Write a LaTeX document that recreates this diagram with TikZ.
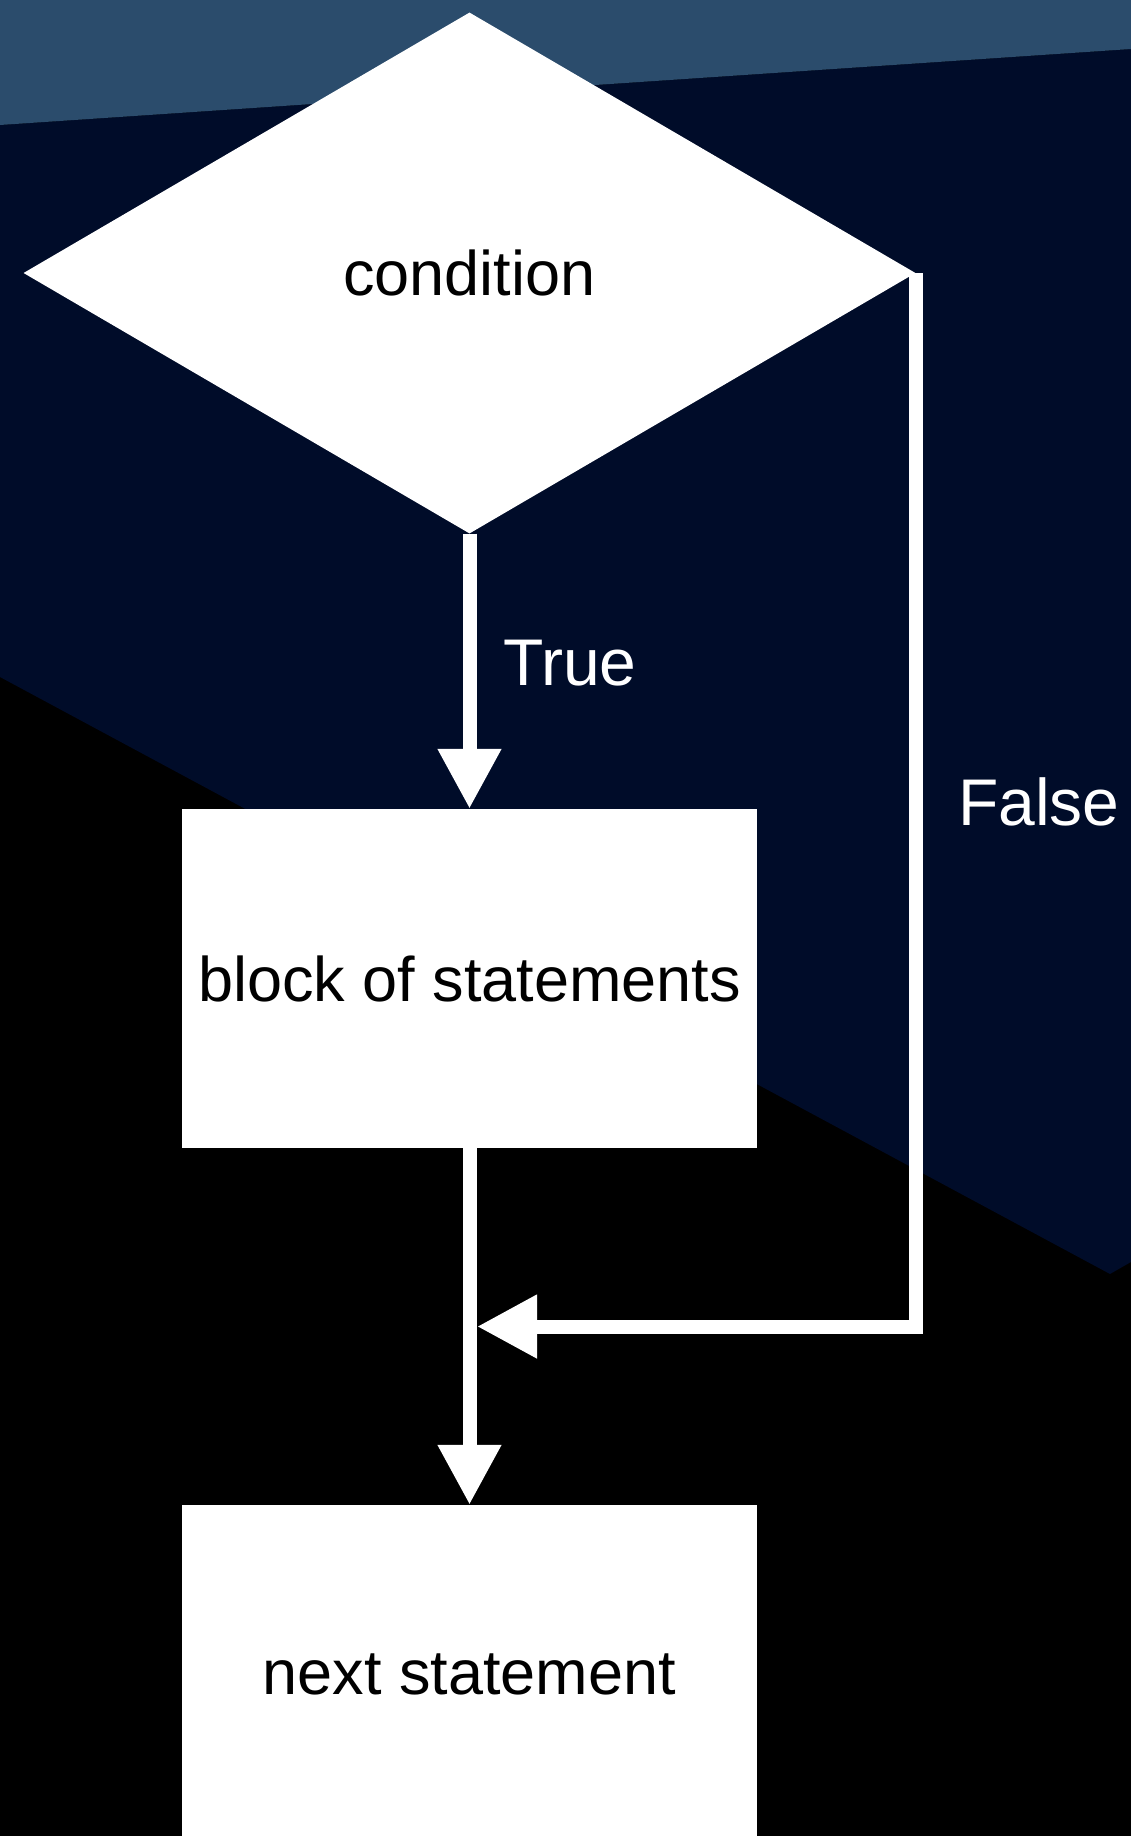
\documentclass[tikz,border=0pt]{standalone}
\usepackage{fontspec}
\setmainfont{Liberation Sans}
\usetikzlibrary{shapes.geometric,arrows.meta}
\definecolor{bandblue}{HTML}{2B4C6C}
\definecolor{navy}{HTML}{000C29}
\begin{document}
\begin{tikzpicture}[x=1pt,y=-1pt,
  flow/.style={draw=white, line width=14pt, -{Triangle[length=60pt,width=60pt]}},
  shapebox/.style={fill=white, draw=none, inner sep=0pt, font=\fontsize{63}{76}\selectfont, text=black},
  lbl/.style={text=white, font=\fontsize{66}{79}\selectfont, inner sep=0pt, anchor=west}]
\useasboundingbox (0,0) rectangle (1131,1836);
\clip (0,0) rectangle (1131,1836);
\fill[black] (0,0) rectangle (1131,1836);
\fill[navy] (0,125) -- (1131,49) -- (1131,1262) -- (1110,1274) -- (0,677) -- cycle;
\fill[bandblue] (0,0) -- (1131,0) -- (1131,49) -- (0,125) -- cycle;
\node[shapebox, diamond, minimum width=892pt, minimum height=521pt] (cond) at (469.5,273) {condition};
\node[shapebox, rectangle, minimum width=575pt, minimum height=339pt] (block) at (469.5,978.5) {block of statements};
\node[shapebox, rectangle, minimum width=575pt, minimum height=338pt] (next) at (469.5,1674) {next statement};
\coordinate (merge) at (477,1326.5);
\draw[flow] (cond.south) -- (block.north);
\draw[flow] (block.south) -- (next.north);
\draw[flow] (cond.east) |- (merge);
\node[lbl] (tlbl) at (503,663) {True};
\node[lbl] (flbl) at (958,802) {False};
\end{tikzpicture}
\end{document}
